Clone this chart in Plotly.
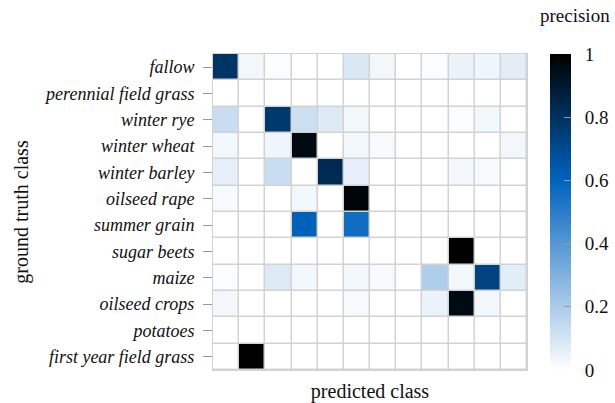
import plotly.graph_objects as go

# Crop classes (ground truth rows, top to bottom; predicted columns, same order)
classes = [
    "fallow", "perennial field grass", "winter rye", "winter wheat",
    "winter barley", "oilseed rape", "summer grain", "sugar beets",
    "maize", "oilseed crops", "potatoes", "first year field grass",
]

# Per-class precision values (rows = ground truth, columns = predicted)
row_fallow        = [0.79, 0.03, 0.01, 0.00, 0.00, 0.09, 0.03, 0.00, 0.01, 0.05, 0.04, 0.07]
row_perennial     = [0.00, 0.00, 0.00, 0.00, 0.00, 0.00, 0.00, 0.00, 0.00, 0.00, 0.00, 0.00]
row_winter_rye    = [0.13, 0.00, 0.77, 0.12, 0.08, 0.03, 0.00, 0.00, 0.00, 0.01, 0.03, 0.00]
row_winter_wheat  = [0.03, 0.00, 0.04, 0.96, 0.00, 0.03, 0.02, 0.00, 0.00, 0.00, 0.00, 0.03]
row_winter_barley = [0.06, 0.00, 0.13, 0.00, 0.83, 0.06, 0.00, 0.00, 0.00, 0.03, 0.02, 0.00]
row_oilseed_rape  = [0.02, 0.00, 0.00, 0.03, 0.00, 0.98, 0.00, 0.00, 0.00, 0.00, 0.00, 0.00]
row_summer_grain  = [0.00, 0.00, 0.00, 0.61, 0.00, 0.56, 0.00, 0.00, 0.00, 0.00, 0.00, 0.00]
row_sugar_beets   = [0.00, 0.00, 0.00, 0.00, 0.00, 0.00, 0.00, 0.00, 0.00, 1.00, 0.00, 0.00]
row_maize         = [0.01, 0.00, 0.08, 0.03, 0.00, 0.03, 0.02, 0.00, 0.19, 0.03, 0.73, 0.07]
row_oilseed_crops = [0.03, 0.00, 0.00, 0.00, 0.00, 0.02, 0.00, 0.00, 0.05, 0.96, 0.03, 0.00]
row_potatoes      = [0.00, 0.00, 0.00, 0.00, 0.00, 0.00, 0.00, 0.00, 0.00, 0.00, 0.00, 0.00]
row_first_year    = [0.00, 1.00, 0.00, 0.00, 0.00, 0.00, 0.00, 0.00, 0.00, 0.00, 0.00, 0.00]

precision = [
    row_fallow, row_perennial, row_winter_rye, row_winter_wheat,
    row_winter_barley, row_oilseed_rape, row_summer_grain, row_sugar_beets,
    row_maize, row_oilseed_crops, row_potatoes, row_first_year,
]

colorbar_ticks = [0, 0.2, 0.4, 0.6, 0.8, 1]
colorbar_labels = ["0", "0.2", "0.4", "0.6", "0.8", "1"]

FONT = "'Liberation Serif', 'DejaVu Serif', serif"
GRID = "#d2d2d2"
PAD = "\u00a0\u00a0"  # small gap between colorbar and its labels

fig = go.Figure(
    go.Heatmap(
        z=precision,
        x=list(range(len(classes))),
        y=classes,
        zmin=0,
        zmax=1,
        xgap=1.5,
        ygap=1.5,
        colorscale=[[0.0, "#ffffff"], [0.6, "#0063be"], [1.0, "#000000"]],
        colorbar=dict(
            x=1.073,
            xanchor="left",
            xpad=0,
            ypad=0,
            y=0.5,
            yanchor="middle",
            len=1.0,
            thickness=21,
            outlinewidth=0,
            tickvals=colorbar_ticks,
            ticktext=[PAD + t for t in colorbar_labels],
            ticks="inside",
            ticklen=7,
            tickcolor="#999999",
            tickfont=dict(family=FONT, size=19, color="#111111"),
        ),
        hoverongaps=False,
    )
)

fig.update_layout(
    width=615,
    height=403,
    margin=dict(l=213, r=88, t=54, b=33, autoexpand=False),
    paper_bgcolor="white",
    plot_bgcolor=GRID,
    font=dict(family=FONT, color="#111111"),
    xaxis=dict(
        showticklabels=False,
        ticks="",
        showgrid=False,
        zeroline=False,
        showline=True,
        linecolor=GRID,
        linewidth=1,
        mirror=True,
        automargin=False,
        title=dict(text="predicted class", font=dict(family=FONT, size=20), standoff=14),
    ),
    yaxis=dict(
        autorange="reversed",
        ticks="outside",
        ticklen=9,
        ticklabelstandoff=5,
        tickcolor="#999999",
        tickfont=dict(family=FONT, size=18),
        showgrid=False,
        zeroline=False,
        showline=True,
        linecolor=GRID,
        linewidth=1,
        mirror=True,
        automargin=False,
        title=dict(text="ground truth class", font=dict(family=FONT, size=20), standoff=10),
    ),
    annotations=[
        dict(
            text="precision",
            xref="paper",
            yref="paper",
            x=1.153,
            y=1.0,
            xanchor="center",
            yanchor="middle",
            yshift=39,
            showarrow=False,
            font=dict(family=FONT, size=19),
        )
    ],
)

# Italic class names on the vertical axis
fig.update_yaxes(ticktext=[f"<i>{c}</i>" for c in classes], tickvals=classes)

fig.write_html("out.html")
